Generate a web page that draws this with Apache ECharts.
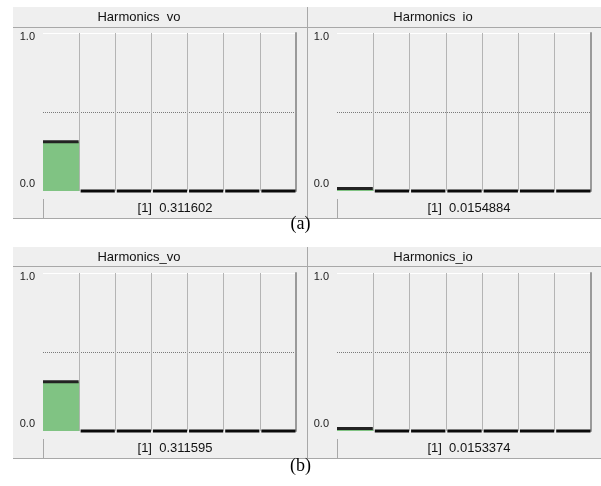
<!DOCTYPE html>
<html>
<head>
<meta charset="utf-8">
<style>
  html, body { margin: 0; padding: 0; background: #ffffff; }
  #chart { width: 601px; height: 486px; }
</style>
<script src="https://cdn.jsdelivr.net/npm/echarts@6/dist/echarts.min.js"></script>
</head>
<body>
<div id="chart"></div>
<script>
// Harmonic orders shown on each spectrum
const harmonics = ['1', '2', '3', '4', '5', '6', '7'];

// Case (a)
const voA = [0.311602, 0, 0, 0, 0, 0, 0];
const ioA = [0.0154884, 0, 0, 0, 0, 0, 0];
// Case (b)
const voB = [0.311595, 0, 0, 0, 0, 0, 0];
const ioB = [0.0153374, 0, 0, 0, 0, 0, 0];

const panelTitles = ['Harmonics  vo', 'Harmonics  io', 'Harmonics_vo', 'Harmonics_io'];
const captions = ['(a)', '(b)'];
const yTicks = [0, 0.5, 1];

const panels = [
  { data: voA, title: panelTitles[0] },
  { data: ioA, title: panelTitles[1] },
  { data: voB, title: panelTitles[2] },
  { data: ioB, title: panelTitles[3] }
];

const BG = '#efefef';
const EDGE = '#a8a8a8';
const SEP = '#b4b4b4';
const FONT = '"Liberation Sans", Arial, sans-serif';

// geometry of the two panel columns and two rows
const cols = [
  { panelX: 13, panelW: 294, plotX: 43, plotW: 253, titleCx: 139 },
  { panelX: 307, panelW: 294, plotX: 337, plotW: 254, titleCx: 433 }
];
const rows = [
  { top: 7, titleLine: 27, plotTop: 33, boxTop: 199, boxBottom: 218, caption: 225 },
  { top: 247, titleLine: 266, plotTop: 273, boxTop: 439, boxBottom: 458, caption: 467 }
];
const PLOT_H = 158;

const chart = echarts.init(document.getElementById('chart'), null, { renderer: 'canvas' });

const grids = [], xAxes = [], yAxes = [], series = [], graphics = [];

// frames, title bands, value boxes
rows.forEach((r, ri) => {
  graphics.push({ type: 'rect', z: -10, shape: { x: 13, y: r.top, width: 588, height: r.boxBottom - r.top }, style: { fill: BG } });
  graphics.push({ type: 'line', z: -9, shape: { x1: 13, y1: r.titleLine + 0.5, x2: 601, y2: r.titleLine + 0.5 }, style: { stroke: EDGE, lineWidth: 1 } });
  graphics.push({ type: 'line', z: -9, shape: { x1: 13, y1: r.boxBottom + 0.5, x2: 601, y2: r.boxBottom + 0.5 }, style: { stroke: EDGE, lineWidth: 1 } });
  graphics.push({ type: 'line', z: -9, shape: { x1: 307.5, y1: r.top, x2: 307.5, y2: r.boxBottom }, style: { stroke: EDGE, lineWidth: 1 } });
  cols.forEach(c => {
    graphics.push({ type: 'line', z: -9, shape: { x1: c.plotX + 0.5, y1: r.boxTop, x2: c.plotX + 0.5, y2: r.boxBottom }, style: { stroke: EDGE, lineWidth: 1 } });
    graphics.push({ type: 'line', z: -9, shape: { x1: c.plotX, y1: r.plotTop + 0.5, x2: c.plotX + c.plotW, y2: r.plotTop + 0.5 }, style: { stroke: '#ffffff', lineWidth: 1 } });
  });
  graphics.push({
    type: 'text', left: 'center', top: r.caption - 10,
    style: { text: captions[ri], font: '18px "Liberation Serif", "Times New Roman", serif', fill: '#000' }
  });
});

panels.forEach((p, i) => {
  const c = cols[i % 2];
  const r = rows[Math.floor(i / 2)];
  grids.push({ left: c.plotX, top: r.plotTop, width: c.plotW, height: PLOT_H, containLabel: false });

  xAxes.push({
    type: 'category', gridIndex: i, data: harmonics, boundaryGap: true,
    axisLine: { show: false }, axisTick: { show: false }, axisLabel: { show: false },
    splitLine: { show: true, showMinLine: false, showMaxLine: false, lineStyle: { color: SEP, width: 1 } }
  });

  yAxes.push({
    type: 'value', gridIndex: i, min: yTicks[0], max: yTicks[2], interval: yTicks[1],
    axisLine: { show: false }, axisTick: { show: false },
    axisLabel: {
      margin: 8, fontFamily: FONT, fontSize: 11, color: '#222',
      formatter: v => v === yTicks[0] ? '{lo|' + v.toFixed(1) + '}' : (v === yTicks[2] ? '{hi|' + v.toFixed(1) + '}' : ''),
      rich: {
        lo: { fontFamily: FONT, fontSize: 11, color: '#222', padding: [0, 0, 14, 0] },
        hi: { fontFamily: FONT, fontSize: 11, color: '#222', padding: [8, 0, 0, 0] }
      }
    },
    splitLine: { show: true, lineStyle: { color: ['rgba(0,0,0,0)', '#7a7a7a', 'rgba(0,0,0,0)'], type: [1, 1], width: 1 } }
  });
  // right-hand border of the plot
  yAxes.push({
    type: 'value', gridIndex: i, position: 'right', min: yTicks[0], max: yTicks[2],
    axisLine: { show: true, lineStyle: { color: '#9a9a9a', width: 2 } },
    axisTick: { show: false }, axisLabel: { show: false }, splitLine: { show: false }
  });

  series.push({
    type: 'bar', xAxisIndex: i, yAxisIndex: i * 2, data: p.data,
    barWidth: '100%', barGap: '-100%', silent: true,
    itemStyle: { color: '#80c383' }
  });
  // dark cap drawn at each bar's value
  series.push({
    type: 'custom', xAxisIndex: i, yAxisIndex: i * 2, data: p.data.map((v, k) => [k, v]),
    silent: true, z: 5,
    renderItem: (params, api) => {
      const pt = api.coord([api.value(0), api.value(1)]);
      const bw = api.size([1, 0])[0];
      const inset = api.value(0) === 0 ? 0 : 1.5;
      return {
        type: 'rect',
        shape: { x: pt[0] - bw / 2 + inset, y: pt[1] - 1.5, width: bw - inset - 0.5, height: 3 },
        style: { fill: api.value(1) > 0 ? '#222222' : '#0a0a0a' }
      };
    }
  });

  graphics.push({
    type: 'text', x: c.titleCx, y: r.top + 10,
    style: { text: p.title, font: '13px ' + FONT, fill: '#111', align: 'center', verticalAlign: 'middle' }
  });
  const boxRight = (i % 2 === 0) ? 307 : 601;
  graphics.push({
    type: 'text', x: (c.plotX + boxRight) / 2, y: (r.boxTop + r.boxBottom) / 2,
    style: { text: '[1]  ' + String(p.data[0]), font: '13px ' + FONT, fill: '#111', align: 'center', verticalAlign: 'middle' }
  });
});

chart.setOption({
  animation: false,
  backgroundColor: '#ffffff',
  grid: grids,
  xAxis: xAxes,
  yAxis: yAxes,
  series: series,
  graphic: graphics
});
</script>
</body>
</html>
